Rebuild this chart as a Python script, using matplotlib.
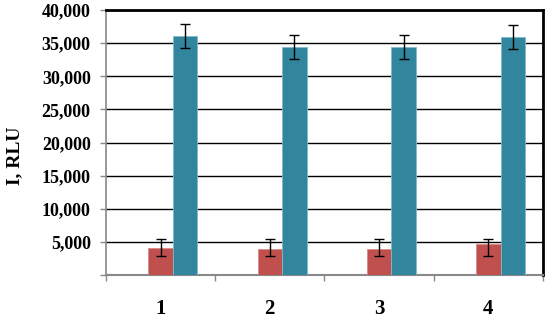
import numpy as np
import matplotlib.pyplot as plt
from matplotlib.ticker import FuncFormatter, MultipleLocator

categories = ["1", "2", "3", "4"]
red_vals = [4030, 3880, 3900, 4720]
red_err_lo = [1150, 1000, 1030, 1850]
red_err_hi = [1370, 1520, 1500, 680]
blue_vals = [36080, 34450, 34380, 35900]
blue_err = [1750, 1800, 1800, 1850]

plt.rcParams["font.family"] = ["Liberation Serif", "DejaVu Serif"]
plt.rcParams["font.weight"] = "bold"

fig = plt.figure(figsize=(5.5, 3.21), dpi=100)
ax = fig.add_axes([0.1927, 0.1433, 0.7943, 0.8255])

x = np.arange(len(categories))
w = 0.225
ax.bar(x, red_vals, w, color="#C0504D", edgecolor="#D98A88", linewidth=0.6,
       yerr=[red_err_lo, red_err_hi], capsize=3.5,
       error_kw=dict(ecolor="black", elinewidth=1, capthick=1), zorder=3)
ax.bar(x + w, blue_vals, w, color="#31859C", edgecolor="#7FBCCC", linewidth=0.6,
       yerr=blue_err, capsize=3.5,
       error_kw=dict(ecolor="black", elinewidth=1, capthick=1), zorder=3)

ax.set_xlim(-0.5, len(categories) - 0.5)
ax.set_ylim(0, 40000)
ax.yaxis.set_major_locator(MultipleLocator(5000))
ax.yaxis.set_major_formatter(FuncFormatter(lambda v, p: "" if v == 0 else f"{int(v):,}"))
ax.grid(axis="y", color="black", linewidth=1, zorder=0)
ax.set_axisbelow(True)

ax.set_xticks(x)
ax.set_xticklabels(categories, fontsize=15, fontweight="bold")
ax.set_xticks(np.arange(-0.5, len(categories)), minor=True)
ax.tick_params(axis="x", which="major", length=0, pad=17)
ax.tick_params(axis="x", which="minor", length=4, color="#888888", width=1)
ax.tick_params(axis="y", length=4, color="#888888", width=1, labelsize=13, pad=7)
for lab in ax.get_yticklabels():
    lab.set_fontweight("bold")

ax.spines["left"].set_color("#888888")
ax.spines["bottom"].set_color("#888888")
ax.spines["left"].set_linewidth(1.2)
ax.spines["bottom"].set_linewidth(1.5)
ax.spines["top"].set_linewidth(2)
ax.spines["right"].set_linewidth(2)

ax.set_ylabel("I, RLU", fontsize=14, fontweight="bold")
ax.yaxis.set_label_coords(-0.19, 0.45)

fig.savefig("out.png", dpi=100)
